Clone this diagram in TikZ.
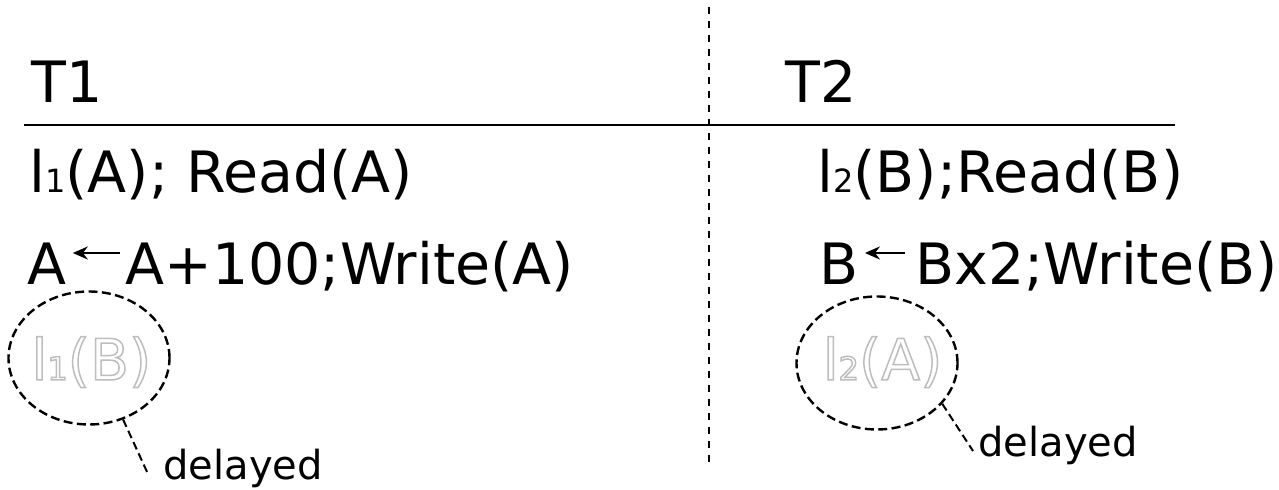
\documentclass[tikz,border=0pt]{standalone}
\usepackage{fontspec}
\setmainfont{DejaVu Sans}
\usetikzlibrary{arrows.meta,positioning,shapes.geometric}
\newcommand{\lsub}[1]{{\fontsize{16}{16}\selectfont #1}}
% white letters with a grey outline (fill and stroke text mode)
\newcommand{\ghosttext}[1]{{\color{white}%
  \special{pdf:literal direct 0.74 G 0.75 w 2 Tr}#1\special{pdf:literal direct 0 Tr}}}

\begin{document}
\begin{tikzpicture}[
    x=0.5pt, y=-0.5pt,
    big/.style={font=\fontsize{28.5}{30}\selectfont, inner sep=0pt, anchor=base west},
    note/.style={font=\fontsize{20}{22}\selectfont, inner ysep=0pt, anchor=base west},
    ring/.style={draw, ellipse, line width=1.2pt, dash pattern=on 4.5pt off 2.2pt, minimum width=80.5pt, minimum height=66.5pt, inner sep=0pt},
    ghost/.style={font=\fontsize{28.5}{30}\selectfont, inner sep=0pt, anchor=base},
    leader/.style={line width=1pt, dash pattern=on 4pt off 2.2pt},
    assign/.style={-{Stealth[length=7.5pt, width=6.5pt]}, line width=1.2pt},
    split/.style={line width=1.2pt, dash pattern=on 3.5pt off 3.5pt}
  ]
    \useasboundingbox (0,0) rectangle (1279,490);

    % headers and rules
    \node[big] (t1) at (31,103) {T1};
    \node[big] (t2) at (785,103) {T2};
    \coordinate (ruleL) at (24,125);
    \coordinate (ruleR) at (1175,125);
    \coordinate (splitT) at (709,7);
    \coordinate (splitB) at (709,465);
    \draw[line width=1.3pt] (ruleL) -- (ruleR);
    \draw[split] (splitT) -- (splitB);

    % T1
    \node[big] (r1) at (29,193) {l\lsub{1}(A); Read(A)};
    \node[big] (a1) at (27,285) {A};
    \node[big] (w1) at (125,285) {A+100;Write(A)};
    \draw[assign] ([shift={(-2.5pt,16pt)}]w1.base west) -- ([shift={(3pt,16pt)}]a1.base east);

    % T2
    \node[big] (r2) at (817,193) {l\lsub{2}(B);Read(B)};
    \node[big] (a2) at (819,285) {B};
    \node[big] (w2) at (915,285) {Bx2;Write(B)};
    \draw[assign] ([shift={(-5pt,16pt)}]w2.base west) -- ([shift={(3pt,16pt)}]a2.base east);

    % delayed locks
    \node[ring] (wait1) at (89,358) {};
    \node[ring] (wait2) at (877,363) {};
    \node[ghost] (lock1) at ([shift={(1.2pt,-11pt)}]wait1.center) {\ghosttext{l\lsub{1}(B)}};
    \node[ghost] (lock2) at ([shift={(2.8pt,-8.5pt)}]wait2.center) {\ghosttext{l\lsub{2}(A)}};

    \node[note, inner xsep=7.5pt] (dl1) at (148,480) {delayed};
    \node[note, inner xsep=2.5pt] (dl2) at (973,457) {delayed};
    \draw[leader] (wait1.-61) -- ([yshift=3pt]dl1.base west);
    \draw[leader] (wait2.-32) -- ([yshift=3pt]dl2.base west);
  \end{tikzpicture}
\end{document}
